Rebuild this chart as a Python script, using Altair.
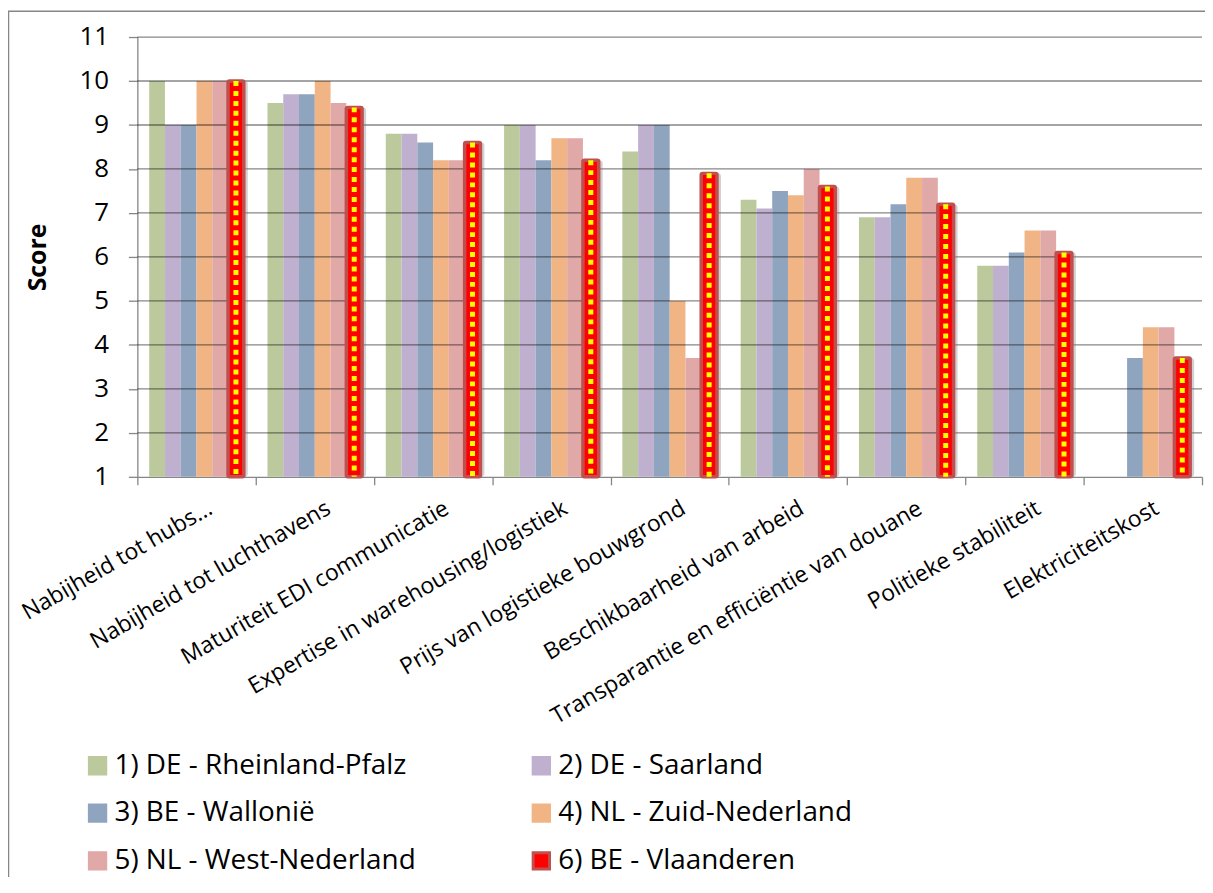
import altair as alt
import pandas as pd

categories = [
    "Nabijheid tot hubs…",
    "Nabijheid tot luchthavens",
    "Maturiteit EDI communicatie",
    "Expertise in warehousing/logistiek",
    "Prijs van logistieke bouwgrond",
    "Beschikbaarheid van arbeid",
    "Transparantie en efficiëntie van douane",
    "Politieke stabiliteit",
    "Elektriciteitskost",
]
series_names = [
    "1) DE - Rheinland-Pfalz",
    "2) DE - Saarland",
    "3) BE - Wallonië",
    "4) NL - Zuid-Nederland",
    "5) NL - West-Nederland",
    "6) BE - Vlaanderen",
]
rheinland = [10.0, 9.5, 8.8, 9.0, 8.4, 7.3, 6.9, 5.8, None]
saarland = [9.0, 9.7, 8.8, 9.0, 9.0, 7.1, 6.9, 5.8, None]
wallonie = [9.0, 9.7, 8.6, 8.2, 9.0, 7.5, 7.2, 6.1, 3.7]
zuid = [10.0, 10.0, 8.2, 8.7, 5.0, 7.4, 7.8, 6.6, 4.4]
west = [10.0, 9.5, 8.2, 8.7, 3.7, 8.0, 7.8, 6.6, 4.4]
vlaanderen = [10.0, 9.4, 8.6, 8.2, 7.9, 7.6, 7.2, 6.1, 3.7]
y_ticks = [1, 2, 3, 4, 5, 6, 7, 8, 9, 10, 11]
grid_values = [2, 3, 4, 5, 6, 7, 8, 9, 10, 11]

fill_colors = ["#BCC99C", "#BFB0D0", "#8FA4BF", "#F1B484", "#E0A8A7", "#FF0000"]
stroke_colors = fill_colors[:5] + ["#C0504D"]

all_values = [rheinland, saarland, wallonie, zuid, west, vlaanderen]
rows = []
for s, vals in zip(series_names, all_values):
    for c, v in zip(categories, vals):
        if v is not None:
            rows.append({"category": c, "series": s, "score": v})
df = pd.DataFrame(rows)

W, H = 1070, 442
STEP = W / len(categories)
FONT = "Open Sans"
GRID = "#868686"
VL = series_names[5]

y_scale = alt.Scale(domain=[1, 11], nice=False, zero=False)
x_scale = alt.Scale(domain=categories, paddingInner=0, paddingOuter=0)
xoff_scale = alt.Scale(domain=series_names, paddingInner=0, paddingOuter=0.75)
shadow_scale = alt.Scale(domain=series_names, paddingInner=0, paddingOuter=0.75,
                         range=[4, STEP + 4])

x_axis = alt.Axis(
    title=None, labelAngle=-30, labelAlign="right", labelBaseline="top",
    labelFont=FONT, labelFontSize=23, labelColor="black", labelPadding=12,
    labelOffset=8, labelLimit=800, tickSize=8, tickColor=GRID, tickWidth=1.3,
    domainColor=GRID, domainWidth=1.3, tickBand="extent", grid=False,
)
y_axis = alt.Axis(
    title="Score", values=y_ticks, format="d",
    titleFont=FONT, titleFontSize=25, titleFontWeight="bold", titleColor="black",
    titlePadding=29, labelFont=FONT, labelFontSize=26, labelColor="black",
    labelPadding=20, tickSize=9, tickColor=GRID, tickWidth=1.3,
    domainColor=GRID, domainWidth=1.3, grid=False,
)
legend_def = alt.Legend(
    title=None, orient="none", legendX=-54, legendY=718, columns=2,
    direction="horizontal",
    symbolType="square", symbolSize=270, symbolStrokeWidth=3,
    labelFont=FONT, labelFontSize=28, labelColor="black", labelOffset=3,
    labelLimit=600, columnPadding=111, rowPadding=18, gridAlign="all",
)

x_enc = alt.X("category:N", sort=categories, scale=x_scale, axis=x_axis)
xoff_enc = alt.XOffset("series:N", sort=series_names, scale=xoff_scale)
color_enc = alt.Color("series:N", scale=alt.Scale(domain=series_names, range=fill_colors), legend=legend_def)
stroke_enc = alt.Stroke("series:N", scale=alt.Scale(domain=series_names, range=stroke_colors), legend=legend_def)

base = alt.Chart(df)

frame = alt.Chart(pd.DataFrame({"f": [0]})).mark_rect(
    fill="transparent", stroke=GRID, strokeWidth=1.5
).encode(
    x=alt.value(-129.5), x2=alt.value(W + 200),
    y=alt.value(-26), y2=alt.value(H + 700),
)

bars = base.transform_filter(alt.datum.series != VL).mark_bar(strokeWidth=0).encode(
    x=x_enc, xOffset=xoff_enc,
    y=alt.Y("score:Q", scale=y_scale, axis=y_axis), y2=alt.datum(1),
    color=color_enc, stroke=stroke_enc,
)

grid = alt.Chart(pd.DataFrame({"grid": grid_values})).mark_rule(
    color="black", opacity=0.47, strokeWidth=1.3
).encode(y=alt.Y("grid:Q", scale=y_scale, axis=y_axis))

shadow = base.transform_filter(alt.datum.series == VL).mark_bar(
    color="#7a7a7a", opacity=0.35, cornerRadius=3
).encode(
    x=x_enc,
    xOffset=alt.XOffset("series:N", sort=series_names, scale=shadow_scale),
    y=alt.Y("score:Q", scale=y_scale, axis=y_axis), y2=alt.datum(1),
)

vl_bars = base.transform_filter(alt.datum.series == VL).mark_bar(
    strokeWidth=3.5, cornerRadius=1.5
).encode(
    x=x_enc, xOffset=xoff_enc,
    y=alt.Y("score:Q", scale=y_scale, axis=y_axis), y2=alt.datum(1),
    color=color_enc, stroke=stroke_enc,
)

vl_pattern = base.transform_filter(alt.datum.series == VL).mark_rule(
    color="#FFFF00", strokeWidth=5, strokeDash=[5, 5]
).encode(
    x=x_enc, xOffset=xoff_enc,
    y=alt.Y("score:Q", scale=y_scale, axis=y_axis), y2=alt.datum(1),
)

chart = alt.layer(frame, bars, grid, shadow, vl_bars, vl_pattern).resolve_scale(
    xOffset="independent"
).properties(
    width=W, height=H,
    autosize=alt.AutoSizeParams(type="none"),
    padding={"left": 130, "top": 27, "right": 3, "bottom": 400},
    background="white",
).configure_view(stroke=None)

chart.save("out.html", embed_options={"renderer": "svg", "actions": False})
